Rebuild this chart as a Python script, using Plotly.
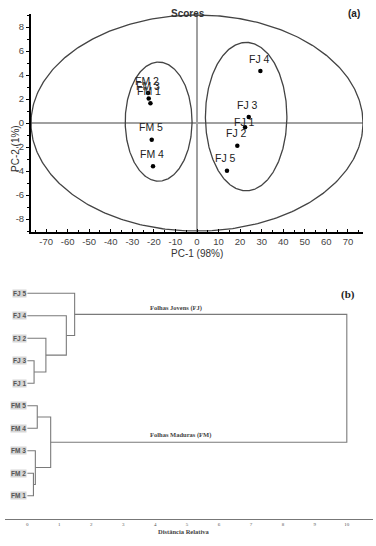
import numpy as np
import plotly.graph_objects as go

# ---------------- (a) PCA scores ----------------
sample_names = ["FJ 1", "FJ 2", "FJ 3", "FJ 4", "FJ 5", "FM 1", "FM 2", "FM 3", "FM 4", "FM 5"]
pc1_scores = [22.3, 18.7, 24.0, 29.4, 13.9, -21.6, -22.7, -22.4, -20.4, -21.0]
pc2_scores = [-0.36, -1.9, 0.5, 4.33, -3.97, 1.65, 2.5, 2.05, -3.6, -1.4]

# confidence ellipses (centre x, centre y, radius x, radius y)
ellipse_cx = [0.0, -17.8, 22.8]
ellipse_cy = [0.0, 0.12, 0.54]
ellipse_rx = [77.0, 15.5, 18.9]
ellipse_ry = [9.0, 4.96, 6.18]

x_ticks = [-70, -60, -50, -40, -30, -20, -10, 0, 10, 20, 30, 40, 50, 60, 70]
y_ticks = [-8, -6, -4, -2, 0, 2, 4, 6, 8]

# ---------------- (b) dendrogram ----------------
leaf_names = ["FM 1", "FM 2", "FM 3", "FM 4", "FM 5", "FJ 1", "FJ 3", "FJ 2", "FJ 4", "FJ 5"]  # bottom -> top
# merge k creates node (len(leaf_names)+k) from the two children
merge_left = [1, 2, 4, 12, 6, 7, 8, 9, 17]
merge_right = [0, 10, 3, 11, 5, 14, 15, 16, 13]
merge_dist = [0.19, 0.25, 0.31, 0.73, 0.21, 0.58, 1.22, 1.48, 10.0]
dist_ticks = [0, 1, 2, 3, 4, 5, 6, 7, 8, 9, 10]

W, H = 376, 546
def px(v):  # horizontal pixel -> paper
    return v / W
def py(v):  # vertical pixel -> paper
    return 1 - v / H

fig = go.Figure()

# ellipses
t = np.linspace(0, 2 * np.pi, 400)
for cx, cy, rx, ry in zip(ellipse_cx, ellipse_cy, ellipse_rx, ellipse_ry):
    fig.add_trace(go.Scatter(x=cx + rx * np.cos(t), y=cy + ry * np.sin(t), mode="lines",
                             line=dict(color="#444444", width=1.3), hoverinfo="skip",
                             showlegend=False, xaxis="x", yaxis="y"))

# score points
fig.add_trace(go.Scatter(x=pc1_scores, y=pc2_scores, mode="markers",
                         marker=dict(color="black", size=4.5), showlegend=False,
                         xaxis="x", yaxis="y"))

label_shift = {"FJ 1": 5}
annotations = []
for name, x, y in zip(sample_names, pc1_scores, pc2_scores):
    annotations.append(dict(x=x, y=y, xref="x", yref="y", text=name, showarrow=False,
                            yshift=label_shift.get(name, 12.5), xshift=-1,
                            font=dict(family="Liberation Sans", size=10.5, color="#222222")))

# dendrogram lines
n_leaf = len(leaf_names)
node_x = [0.0] * n_leaf
node_y = [float(i) for i in range(n_leaf)]
lx, ly = [], []
for a, b, d in zip(merge_left, merge_right, merge_dist):
    lx += [node_x[a], d, d, node_x[b], None]
    ly += [node_y[a], node_y[a], node_y[b], node_y[b], None]
    node_x.append(d)
    node_y.append((node_y[a] + node_y[b]) / 2)
fig.add_trace(go.Scatter(x=lx, y=ly, mode="lines", line=dict(color="#7a7a7a", width=1.1),
                         hoverinfo="skip", showlegend=False, xaxis="x2", yaxis="y2"))

for i, name in enumerate(leaf_names):
    annotations.append(dict(x=0, y=i, xref="x2", yref="y2", text="<b>" + name + "</b>",
                            showarrow=False, xanchor="right", xshift=-0.5, bgcolor="#d6d6d6",
                            borderpad=0,
                            font=dict(family="Liberation Sans", size=6.5, color="#555555")))

annotations += [
    dict(x=px(188), y=py(6.5), xref="paper", yref="paper", text="<b>Scores</b>", showarrow=False,
         font=dict(family="Liberation Sans", size=10, color="#333333")),
    dict(x=px(362), y=py(6.5), xref="paper", yref="paper", text="<b>(a)</b>", showarrow=False,
         font=dict(family="Liberation Sans", size=10, color="#222222")),
    dict(x=px(197), y=py(253), xref="paper", yref="paper", text="PC-1 (98%)", showarrow=False,
         font=dict(family="Liberation Sans", size=10, color="#333333")),
    dict(x=px(8), y=py(123), xref="paper", yref="paper", text="PC-2 (1%)", showarrow=False,
         textangle=-90, font=dict(family="Liberation Sans", size=10, color="#333333")),
    dict(x=4.65, y=8.36, xref="x2", yref="y2", text="<b>Folhas Jovens (FJ)</b>", showarrow=False,
         font=dict(family="Liberation Serif", size=6.5, color="#444444")),
    dict(x=4.78, y=2.70, xref="x2", yref="y2", text="<b>Folhas Maduras (FM)</b>", showarrow=False,
         font=dict(family="Liberation Serif", size=6.5, color="#444444")),
    dict(x=px(357), y=py(294.5), xref="paper", yref="paper", text="<b>(b)</b>", showarrow=False,
         font=dict(family="Liberation Serif", size=11, color="#222222")),
    dict(x=px(183), y=py(537), xref="paper", yref="paper", text="<b>Distância Relativa</b>",
         showarrow=False, font=dict(family="Liberation Serif", size=6.5, color="#444444")),
]

fig.update_layout(
    width=W, height=H, margin=dict(l=0, r=0, t=0, b=0),
    paper_bgcolor="white", plot_bgcolor="white",
    annotations=annotations,
    xaxis=dict(domain=[px(31), px(363)], range=[-77, 77], tickvals=x_ticks,
               ticktext=[str(v) for v in x_ticks],
               showgrid=False, zeroline=True, zerolinecolor="#a0a0a0", zerolinewidth=1.5,
               showline=True, linecolor="black", linewidth=2,
               ticks="inside", ticklen=3, tickcolor="black",
               minor=dict(dtick=5, ticks="inside", ticklen=2, tickcolor="black"),
               tickfont=dict(family="Liberation Sans", size=9.5, color="#444444"),
               anchor="y"),
    yaxis=dict(domain=[py(231.7), py(13.8)], range=[-9.05, 9.1], tickvals=y_ticks,
               ticktext=[str(v) for v in y_ticks],
               showgrid=False, zeroline=True, zerolinecolor="#a0a0a0", zerolinewidth=1.5,
               showline=True, linecolor="black", linewidth=2,
               ticks="outside", ticklen=3, tickcolor="black",
               minor=dict(dtick=1, ticks="outside", ticklen=2, tickcolor="black"),
               tickfont=dict(family="Liberation Sans", size=9.5, color="#444444"),
               anchor="x"),
    xaxis2=dict(domain=[px(5), px(373)], range=[-0.70, 10.82], tickvals=dist_ticks,
                showgrid=False, zeroline=False, showline=True, linecolor="#777777", linewidth=1,
                ticks="", tickfont=dict(family="Liberation Serif", size=5, color="#555555"),
                anchor="y2"),
    yaxis2=dict(domain=[py(519.3), py(280)], range=[-1.05, 9.59], visible=False, anchor="x2"),
)

fig.write_html("out.html", config={"displayModeBar": False},
               post_script="document.body.style.margin='0';document.body.style.overflow='hidden';")
